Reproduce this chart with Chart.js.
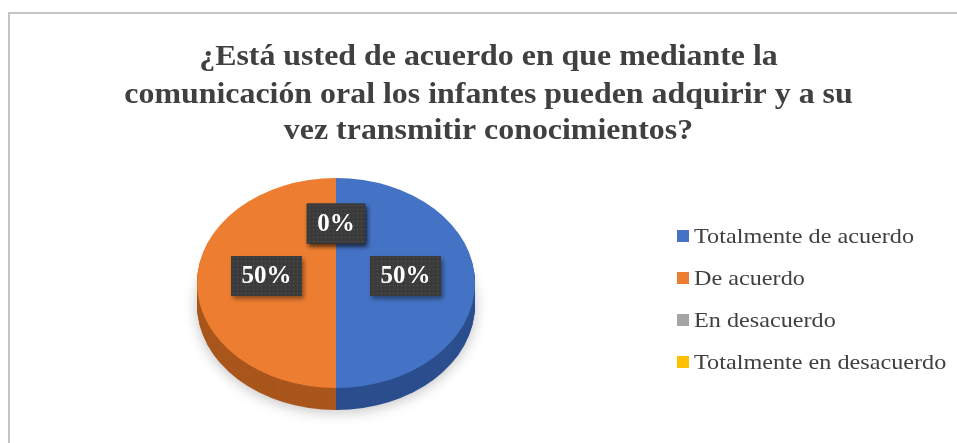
<!DOCTYPE html>
<html>
<head>
<meta charset="utf-8">
<script src="https://cdn.jsdelivr.net/npm/chart.js@4/dist/chart.umd.min.js"></script>
<style>
  html, body { margin: 0; padding: 0; background: #fff; }
  #wrap { position: relative; width: 957px; height: 443px; overflow: hidden; }
  #frame { position: absolute; left: 8px; top: 12px; width: 1000px; height: 500px;
           border-left: 2px solid #c4c4c4; border-top: 2px solid #c4c4c4; }
  canvas { position: absolute; left: 0; top: 0; }
</style>
</head>
<body>
<div id="wrap">
  <div id="frame"></div>
  <canvas id="c" width="957" height="443"></canvas>
</div>
<script>
const titleLines = [
  "¿Está usted de acuerdo en que mediante la",
  "comunicación oral los infantes pueden adquirir y a su",
  "vez transmitir conocimientos?"
];
const categories = ["Totalmente de acuerdo", "De acuerdo", "En desacuerdo", "Totalmente en desacuerdo"];
const values = [50, 50, 0, 0];
const percentLabels = ["50%", "50%", "0%", "0%"];
const colors = ["#4472C4", "#ED7D31", "#A5A5A5", "#FFC000"];
const sideColors = ["#2B4E8E", "#A9561C", "#7a7a7a", "#b88a00"];

const SQUASH = 0.755;
const DEPTH = 22;
const XSTRETCH = 1.1;

function squashAround(ctx, cy, dy) {
  ctx.translate(0, cy + dy);
  ctx.scale(1, SQUASH);
  ctx.translate(0, -cy);
}

const pie3d = {
  id: 'pie3d',
  beforeDatasetsDraw(chart) {
    const ctx = chart.ctx;
    const meta = chart.getDatasetMeta(0);
    const cy = meta.data[0].y;
    for (let d = DEPTH; d >= 1; d--) {
      meta.data.forEach((arc, i) => {
        if (!values[i]) return;
        ctx.save();
        squashAround(ctx, cy, d);
        if (d === DEPTH) {
          ctx.shadowColor = 'rgba(0,0,0,0.25)';
          ctx.shadowBlur = 14;
          ctx.shadowOffsetY = 2;
        }
        const bg = arc.options.backgroundColor;
        arc.options.backgroundColor = sideColors[i];
        arc.draw(ctx);
        arc.options.backgroundColor = bg;
        ctx.restore();
      });
    }
    ctx.save();
    squashAround(ctx, cy, 0);
  },
  afterDatasetsDraw(chart) {
    chart.ctx.restore();
  },
  afterDraw(chart) {
    const ctx = chart.ctx;
    const meta = chart.getDatasetMeta(0);
    const cy = meta.data[0].y;
    // Title
    ctx.save();
    ctx.fillStyle = '#404040';
    ctx.font = 'bold 29px "Liberation Serif", "Times New Roman", serif';
    ctx.textAlign = 'center';
    ctx.textBaseline = 'alphabetic';
    const baselines = [65, 103, 139];
    ctx.translate(488.5, 0);
    ctx.scale(XSTRETCH, 1);
    titleLines.forEach((t, i) => ctx.fillText(t, 0, baselines[i]));
    ctx.restore();

    // Legend
    ctx.save();
    ctx.font = '22px "Liberation Serif", "Times New Roman", serif';
    ctx.textBaseline = 'alphabetic';
    ctx.textAlign = 'left';
    categories.forEach((c, i) => {
      const by = 243 + i * 42;
      ctx.fillStyle = colors[i];
      ctx.fillRect(677, by - 13, 12, 12);
      ctx.save();
      ctx.translate(694, by);
      ctx.scale(XSTRETCH, 1);
      ctx.fillStyle = '#404040';
      ctx.fillText(c, 0, 0);
      ctx.restore();
    });
    ctx.restore();

    // Data labels
    const pat = document.createElement('canvas');
    pat.width = 4; pat.height = 4;
    const pc = pat.getContext('2d');
    pc.fillStyle = '#3b3b3b'; pc.fillRect(0, 0, 4, 4);
    pc.fillStyle = '#585858'; pc.fillRect(1, 1, 1, 1);
    const pattern = ctx.createPattern(pat, 'repeat');

    meta.data.forEach((arc, i) => {
      const p = arc.getCenterPoint();
      const x = p.x;
      const y = cy + (p.y - cy) * SQUASH - 7;
      ctx.save();
      ctx.font = 'bold 25px "Liberation Serif", "Times New Roman", serif';
      const tw = ctx.measureText(percentLabels[i]).width;
      const w = tw + 21;
      const h = 40;
      ctx.shadowColor = 'rgba(0,0,0,0.4)';
      ctx.shadowBlur = 4;
      ctx.shadowOffsetX = 2;
      ctx.shadowOffsetY = 3;
      ctx.fillStyle = pattern;
      ctx.fillRect(x - w / 2, y - h / 2, w, h);
      ctx.shadowColor = 'transparent';
      ctx.fillStyle = '#ffffff';
      ctx.textAlign = 'center';
      ctx.textBaseline = 'middle';
      ctx.fillText(percentLabels[i], x, y + 1);
      ctx.restore();
    });
  }
};

new Chart(document.getElementById('c'), {
  type: 'pie',
  data: {
    labels: categories,
    datasets: [{
      data: values,
      backgroundColor: colors,
      borderWidth: 0,
      clip: false
    }]
  },
  options: {
    responsive: false,
    animation: false,
    rotation: 0,
    layout: { padding: { left: 197, right: 482, top: 144, bottom: 21 } },
    plugins: {
      legend: { display: false },
      title: { display: false },
      tooltip: { enabled: false }
    }
  },
  plugins: [pie3d]
});
</script>
</body>
</html>
